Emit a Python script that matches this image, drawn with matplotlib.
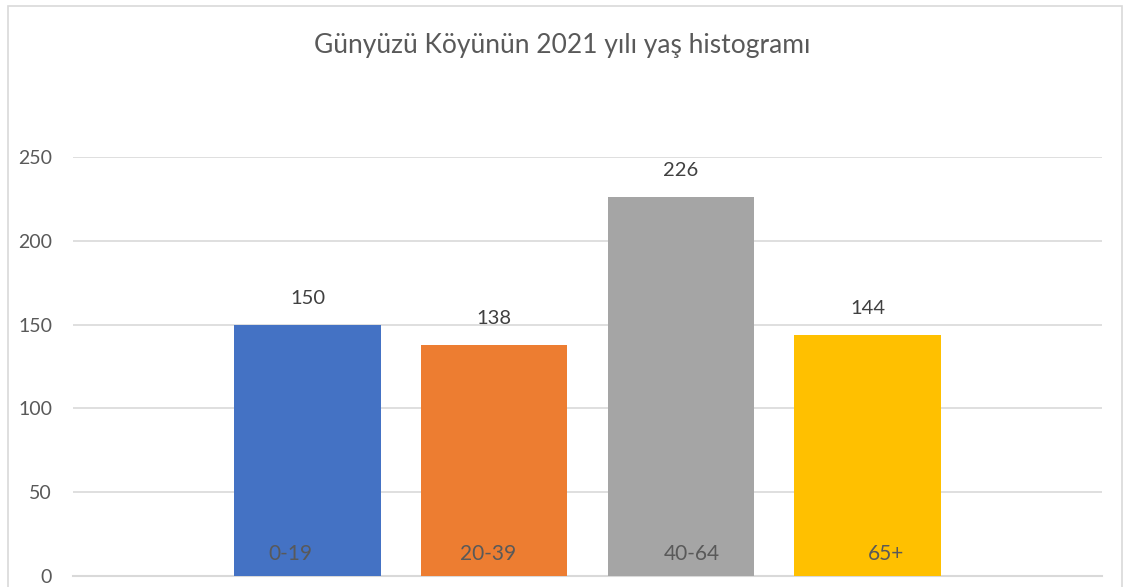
import matplotlib
matplotlib.use("Agg")
import matplotlib.pyplot as plt
from matplotlib.patches import Rectangle

# --- data ---
groups = ["0-19", "20-39", "40-64", "65+"]
counts = [150, 138, 226, 144]
colors = ["#4472C4", "#ED7D31", "#A5A5A5", "#FFC000"]
yticks = [0, 50, 100, 150, 200, 250]
title = "Günyüzü Köyünün 2021 yılı yaş histogramı"

# name labels sit a bit off-centre in the original
label_dx = [-0.09, -0.03, 0.06, 0.10]

plt.rcParams["font.family"] = ["Lato", "DejaVu Sans"]

fig = plt.figure(figsize=(11.25, 5.87), dpi=100)
ax = fig.add_axes([73 / 1125, 11 / 587, 1029 / 1125, 419 / 587])

x = list(range(len(groups)))
ax.bar(x, counts, width=0.785, color=colors, zorder=3)

for i, v in enumerate(counts):
    ax.annotate(str(v), (i, v), xytext=(0, 19), textcoords="offset points",
                ha="center", va="center", fontsize=14.5, color="#404040")
    ax.text(i + label_dx[i], 13, groups[i], ha="center", va="center",
            fontsize=15, color="#595959", zorder=4)

ax.set_xlim(-1.256, 4.256)
ax.set_ylim(0, 250)
ax.set_yticks(yticks)
ax.set_xticks([])
ax.tick_params(axis="y", length=0, pad=15, labelsize=14, labelcolor="#595959")
ax.grid(axis="y", color="#D9D9D9", linewidth=1.2, zorder=0)
for s in ["left", "right", "top"]:
    ax.spines[s].set_visible(False)
ax.spines["bottom"].set_color("#D9D9D9")
ax.spines["bottom"].set_linewidth(1.5)

fig.text(0.5, 0.923, title, ha="center", va="center", fontsize=19, color="#595959")

# outer chart frame
fig.patches.append(Rectangle((8 / 1125, -0.05), 1114 / 1125, 1.05 - 6 / 587,
                             transform=fig.transFigure, fill=False,
                             edgecolor="#D9D9D9", linewidth=1.2))

fig.savefig("out.png", dpi=100)
